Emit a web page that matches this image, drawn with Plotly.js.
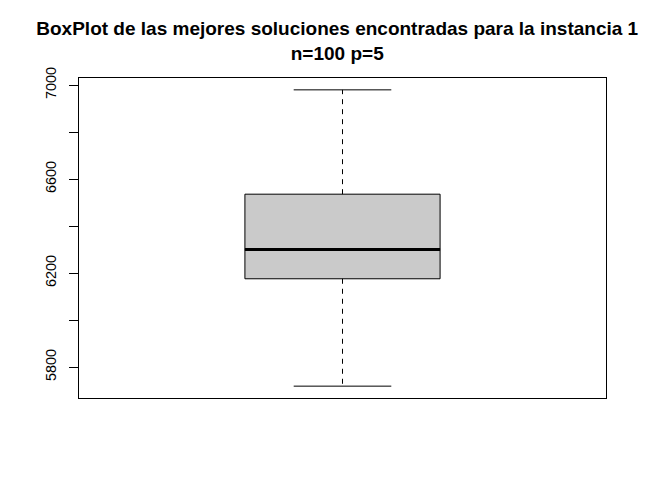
<!DOCTYPE html>
<html>
<head>
<meta charset="utf-8">
<script src="https://cdn.plot.ly/plotly-3.0.1.min.js"></script>
<style>html,body{margin:0;padding:0;background:#fff;}#chart{width:647px;height:497px;}</style>
</head>
<body>
<div id="chart"></div>
<script>
// Data
const groupPos = [1];
const minVal = [5719];
const q1Val = [6176];
const medianVal = [6301];
const q3Val = [6536];
const maxVal = [6980];
const tickValues = [5800, 6000, 6200, 6400, 6600, 6800, 7000];
const tickLabels = ['5800', '', '6200', '', '6600', '', '7000'];
const titleText = 'BoxPlot de las mejores soluciones encontradas para la instancia 1<br>n=100 p=5';

const boxWidth = 0.4;
const capHalf = 0.1;

const lo = Math.min(...minVal), hi = Math.max(...maxVal);
const pad = (hi - lo) * 0.04;

const traces = [];
traces.push({
  type: 'box', x: groupPos, q1: q1Val, median: medianVal, q3: q3Val,
  lowerfence: q1Val, upperfence: q3Val, width: boxWidth,
  fillcolor: '#CACACA', line: {color: '#000', width: 1},
  boxpoints: false, hoverinfo: 'skip', showlegend: false, whiskerwidth: 0
});
const wx = [], wy = [], cx = [], cy = [], mx = [], my = [];
groupPos.forEach((p, i) => {
  wx.push(p, p, null, p, p, null); wy.push(q3Val[i], maxVal[i], null, q1Val[i], minVal[i], null);
  cx.push(p - capHalf, p + capHalf, null, p - capHalf, p + capHalf, null);
  cy.push(maxVal[i], maxVal[i], null, minVal[i], minVal[i], null);
  mx.push(p - boxWidth / 2, p + boxWidth / 2, null); my.push(medianVal[i], medianVal[i], null);
});
traces.push({type: 'scatter', mode: 'lines', x: wx, y: wy, line: {color: '#000', width: 1, dash: '5px,5px'}, hoverinfo: 'skip', showlegend: false});
traces.push({type: 'scatter', mode: 'lines', x: cx, y: cy, line: {color: '#000', width: 1}, hoverinfo: 'skip', showlegend: false});
traces.push({type: 'scatter', mode: 'lines', x: mx, y: my, line: {color: '#000', width: 3}, hoverinfo: 'skip', showlegend: false});

const layout = {
  width: 647, height: 497,
  margin: {l: 79, r: 41, t: 78, b: 99, pad: 0},
  paper_bgcolor: '#fff', plot_bgcolor: '#fff',
  font: {family: 'Liberation Sans, Arial, sans-serif', color: '#000'},
  title: {text: titleText, font: {size: 19, weight: 'bold', family: 'Liberation Sans, Arial, sans-serif', color: '#000'},
          x: 0.49, xanchor: 'center', xref: 'paper', yref: 'container', y: 1 - 35 / 497, yanchor: 'top'},
  xaxis: {range: [0.46, 1.54], showgrid: false, zeroline: false, showticklabels: false, ticks: '',
          showline: true, mirror: true, linecolor: '#000', linewidth: 1},
  yaxis: {range: [lo - pad, hi + pad], showgrid: false, zeroline: false, tickmode: 'array',
          tickvals: tickValues, ticktext: tickLabels, ticks: 'outside', ticklen: 9, tickcolor: '#000', tickwidth: 1,
          tickangle: -90, tickfont: {size: 14.5, color: '#000'}, ticklabelstandoff: 7,
          showline: true, mirror: true, linecolor: '#000', linewidth: 1}
};
Plotly.newPlot('chart', traces, layout, {displayModeBar: false, staticPlot: true});
</script>
</body>
</html>
